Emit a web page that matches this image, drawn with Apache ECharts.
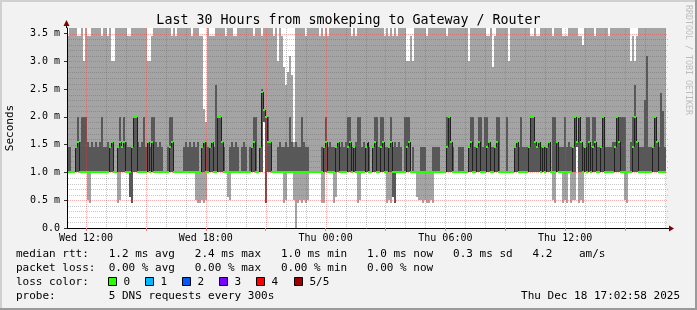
<!DOCTYPE html>
<html><head><meta charset="utf-8">
<script src="https://cdn.jsdelivr.net/npm/echarts@6.0.0/dist/echarts.min.js"></script>
<style>html,body{margin:0;padding:0;background:#f2f2f2}#c{width:697px;height:310px}</style>
</head><body><div id="c"></div>
<script>
// ---- time base (hours since Wed 00:00), one sample per 6 minutes ----
const START_H = 11.05;   // Wed 11:03
const END_H = 41.05;     // Thu 17:03
const STEP_H = 0.1;

// ---- smoke: lowest ping (p1) ----
const smokeLo = [
1,1,1,1,1,1,1,1,1,1,
0.5,0.45,1,1,1,1,1,1,1,1,
1,1,1,1,1,0.45,0.5,1,1,1,
1,0.55,0.45,1,1,1,1,1,1,1,
1,1,1,1,1,1,1,1,1,1,
1,1,1,1,1,1,1,1,1,1,
1,1,1,1,0.5,0.45,0.45,0.5,0.45,0.5,
1,1,1,1,1,1,1,1,1,1,
0.55,0.5,1,1,1,1,1,1,1,1,
1,1,1,1,1,1,1,1,1.9,0.45,
1,1,1,1,1,1,1,1,0.45,0.5,
1,1,1,0.5,0,0.45,0.5,0.45,0.5,0.45,
0.5,1,1,1,1,1,1,0.45,0.45,1,
1,1,1,0.45,0.55,1,1,1,1,1,
1,1,1,1,1,0.45,0.5,1,1,1,
1,1,1,1,1,1,1,1,1,1,
0.45,0.5,0.45,0.55,0.45,1,1,1,1,1,
1,1,1,1,1,0.55,0.5,0.5,0.45,0.5,
0.45,0.45,0.5,0.45,1,1,1,1,1,1,
1,1,1,1,1,1,1,1,1,1,
1,1,1,1,1,1,1,1,1,1,
1,1,1,1,1,1,1,1,1,1,
1,1,1,1,1,1,1,1,1,1,
1,1,1,1,1,1,1,1,1,1,
1,1,1,0.5,0.45,1,1,1,0.45,0.5,
0.45,1,0.45,0.5,0.5,1.45,0.45,0.5,0.45,1,
1,1,1,1,1,1,1,1,1,1,
1,1,1,1,1,1,1,1,1,0.5,
0.45,1,1,1,1,1,1,1,1,1,
1,1,1,1,1,1,1,1,1,1];

// ---- smoke: second ping (p2) ----
const smokeLoDark = [
1,1,1,1,1,1,1,1,1,1,
1,1,1,1,1,1,1,1,1,1,
1,1,1,1,1,1,1,1,1,1,
1,0.55,0.45,1,1,1,1,1,1,1,
1,1,1,1,1,1,1,1,1,1,
1,1,1,1,1,1,1,1,1,1,
1,1,1,1,1,1,1,1,1,1,
1,1,1,1,1,1,1,1,1,1,
1,1,1,1,1,1,1,1,1,1,
1,1,1,1,1,1,1,1,1.9,0.45,
1,1,1,1,1,1,1,1,1,1,
1,1,1,1,1,1,1,1,1,1,
1,1,1,1,1,1,1,1,1,1,
1,1,1,1,1,1,1,1,1,1,
1,1,1,1,1,1,1,1,1,1,
1,1,1,1,1,1,1,1,1,1,
1,1,1,0.55,0.45,1,1,1,1,1,
1,1,1,1,1,1,1,1,1,1,
1,1,1,1,1,1,1,1,1,1,
1,1,1,1,1,1,1,1,1,1,
1,1,1,1,1,1,1,1,1,1,
1,1,1,1,1,1,1,1,1,1,
1,1,1,1,1,1,1,1,1,1,
1,1,1,1,1,1,1,1,1,1,
1,1,1,1,1,1,1,1,1,1,
1,1,1,1,1,1.45,1,1,1,1,
1,1,1,1,1,1,1,1,1,1,
1,1,1,1,1,1,1,1,1,1,
1,1,1,1,1,1,1,1,1,1,
1,1,1,1,1,1,1,1,1,1];

// ---- median rtt (p3), ms ----
const median = [
1,1,1,1,1.45,1.55,1,1,1,1,
1,1,1,1,1,1,1,1,1,1,
1,1.45,1.55,1,1,1.45,1.55,1.45,1.55,1,
1,1,1.45,2,2,1,1,1,1,1,
1.55,1,1.55,1,1,1,1,1,1,1,
1,1.45,1.55,1,1,1,1,1,1,1,
1,1,1,1,1,1,1,1.45,1.55,1,
1,1.45,1.55,1,1,2,2,1.55,1,1,
1,1,1,1,1,1,1,1,1,1,
1,1,1.45,1.55,1,1,1.45,2.45,2.12,2,
1.55,1.55,1,1,1,1,1,1,1,1,
1,1,1,1,1,1,1,1,1,1,
1,1,1,1,1,1,1,1,1.45,1.55,
1,1,1,1,1.45,1.55,1,1,1,1,
1.45,1.55,1,1.45,1,1,1,1,1,1.45,
1.55,1,1,1.45,1.55,1,1,1.45,1.55,1,
1,1.45,1.55,1,1,1,1,1,1,1,
1.45,1.55,1,1,1,1,1,1,1,1,
1,1,1,1,1,1,1,1,1,1,
1.45,2,1.55,1,1,1,1,1,1,1,
1,1.45,1.55,1,1,1.45,1.55,1,1,1,
1.45,1.55,1,1,1.45,1.55,1,1,1,1,
1,1,1,1,1.45,1.55,1,1,1,1,
1,1.45,2,2,1.55,1.45,1.55,1,1.45,1,
1.45,1.55,1,1,1,1.55,1,1,1,1,
1,1,1,1.45,2,1.55,2,1.55,1,1.45,
1,1.55,1,1.45,1.55,1,1,1.45,2,1,
1,1,1,1,1.45,2,1.55,1,1,1,
1,1,1,1.45,2,1.55,1,1,1,1,
1,1,1,1.45,2,1.55,1,1,1,1];

// ---- smoke: fourth ping (p4) ----
const smokeHiDark = [
1.45,1.45,1,1,1.45,2,1.55,2,2,2,
1.55,1.45,1.55,1.45,1.55,1.45,1.55,2,1.45,1.45,
1.55,1.45,1.55,1,1,1.45,2,1.45,2,1.55,
1.45,1.45,1.45,2,2,1.55,1.45,1.55,2,1.45,
1.55,1.45,2,2,1.55,1.45,1.55,1.45,1,1,
1.45,2,2,1,1,1,1,1,1.45,1.55,
1.45,1.55,1.45,1.55,1.45,1.55,1,1.45,1.55,1.55,
1.45,1.45,1.55,1.45,2.57,2,2,1.55,1.45,1,
1,1.45,1.55,1.45,1.55,1.45,1,1.45,1.55,1.45,
1,1.45,1.45,2,2,1,1.45,2.5,2.12,2,
2,1.55,1,1,1,1.45,1.55,1.45,1.45,1.55,
1.45,2,1.55,1.45,1.55,1.45,1.45,2,1.55,1.45,
1.45,1,1,1,1,1,1,1.45,1.45,2,
1.45,1.55,1.45,1.45,1.45,1.55,1.45,1.55,1.45,1.55,
2,2,1.45,1.45,1.55,2,2,1.45,1.55,1.45,
1.55,1.45,1,1.45,2,2,1.45,2,2,1.45,
1.45,1.45,2,1.45,1.55,1.45,1.55,1.45,1,2,
2,2,1,1.45,1,1,1,1.45,1.45,1.45,
1,1,1,1.45,1.45,1.45,1.45,1,1,1,
2,2,1.55,1.45,1,1,1.45,1.45,1.45,1,
1,1.45,2,2,1.45,1.45,2,2,1.45,2,
2,1.55,1.45,1.45,1.45,2,2,1,1,1,
2,1,1,1,1.45,1.55,1.45,2,1.45,1.45,
1.45,1.45,2,2,1.55,1.45,1.55,1.45,1.45,1.45,
1.45,1.55,1,2,2,1.55,1.45,1.45,1.45,2,
1.45,1.55,1.45,1.45,2,1.55,2,1.55,1.45,1.45,
2,2,1.45,2,2,1.45,1.45,1.45,2,1.45,
1.45,1.45,1.45,1.55,1.55,2,2,2,2,2,
1,1,1.55,2,2.57,1.55,1.45,1.45,1.45,2.3,
3.1,1.45,1.45,1.45,2,1.55,1.45,2.43,2.1,1.45];

// ---- smoke: highest ping (p5), clipped at the 3.6 ms top ----
const smokeHi = [
3.45,3.6,3.6,3.6,3.6,3.45,3.45,3.6,3,3.6,
3.45,3.45,3.6,3.6,3.6,3.6,3.6,3.45,3.6,3.6,
3.45,3.6,3,3,3.6,3.6,3.6,3.6,3.6,3.6,
3.45,3.45,3.6,3.6,3.6,3.6,3.6,3.6,3.6,3.6,
3,3,3.45,3.6,3.6,3.6,3.6,3.6,3.6,3.6,
3.6,3.6,3.45,3.6,3.45,3.6,3.6,3.6,3.6,3.6,
3.6,3.6,3.45,3.6,3.6,3.6,3.45,3.45,2.15,1.9,
3.6,3.45,3.45,3.45,3.6,3.6,3.6,3.6,3.6,3.45,
3.6,3.6,3.6,3.45,3.45,3.6,3.6,3.6,3.6,3.6,
3.6,3.6,3.6,3.45,3.6,3.6,3.6,3.45,3.6,3.6,
3.6,3.6,3.6,3.45,3.6,3,3.6,3.45,2.9,2.57,
2.8,3.1,2.75,1.55,3.6,3.6,3.6,3.6,3.6,3.45,
3.6,3.6,3.6,3.6,3.6,3.6,3.45,3.6,3.45,3.6,
3.45,3.6,3.6,3.6,3.6,3.6,3.6,3.6,3.6,3.6,
3.6,3.6,3.45,3.6,3.45,3.6,3.6,3.6,3.6,3.6,
3.6,3.6,3.6,3.6,3.6,3.6,3.6,3.6,3.6,3.45,
3.6,3.45,3.6,3.45,3.6,3.45,3.6,3.6,3.6,3.6,
3,3,3.45,3,3.6,3.6,3.6,3.6,3.6,3.6,
3.45,3.6,3.6,3.6,3.6,3.6,3.6,3.6,3.6,3.6,
3.45,3.6,3.6,3.6,3.6,3.6,3.6,3.6,3.6,3.6,
3.6,3,3.6,3.6,3.6,3.6,3.6,3.6,3.6,3.6,
3.45,3.45,3.6,2.9,3.45,3.6,3.6,3.6,3.6,3.6,
3.6,3,3.6,3.6,3.6,3.6,3.6,3.6,3.6,3.6,
3.6,3.6,3.45,3.45,3.6,3.45,3.45,3.6,3.6,3.6,
3.6,3.6,3.6,3.45,3.6,3.6,3.6,3.6,3.45,3.45,
3.45,3.6,3.6,3.6,3.6,3.6,3.45,3.45,3.3,3.6,
3.6,3.6,3.6,3.6,3.45,3.6,3.6,3.6,3.6,3.6,
3.6,3.45,3.6,3.6,3.6,3.6,3.6,3.6,3.6,3.6,
3.6,3.6,3,3.45,3,3.45,3.6,3.6,3.6,3.6,
3.6,3.6,3.6,3.6,3.6,3.6,3.6,3.6,3.6,3.6];

// ---- axes / grid ticks ----
const xLabelHours = [12, 18, 24, 30, 36];
const xTickLabels = ['Wed 12:00', 'Wed 18:00', 'Thu 00:00', 'Thu 06:00', 'Thu 12:00'];
const xMajorHours = [12, 15, 18, 21, 24, 27, 30, 33, 36, 39];
const xMinorHours = [13, 14, 16, 17, 19, 20, 22, 23, 25, 26, 28, 29, 31, 32, 34, 35, 37, 38, 40, 41];
const yTickValues = [0, 0.5, 1, 1.5, 2, 2.5, 3, 3.5];
const yMajorValues = [0.5, 1, 1.5, 2, 2.5, 3, 3.5];
const yMinorValues = [0.1, 0.2, 0.3, 0.4, 0.6, 0.7, 0.8, 0.9, 1.1, 1.2, 1.3, 1.4, 1.6, 1.7, 1.8, 1.9,
  2.1, 2.2, 2.3, 2.4, 2.6, 2.7, 2.8, 2.9, 3.1, 3.2, 3.3, 3.4];

// ---- legend / stats text ----
const rttStats = ['1.2 ms avg', '2.4 ms max', '1.0 ms min', '1.0 ms now', '0.3 ms sd', '4.2    am/s'];
const lossStats = ['0.00 % avg', '0.00 % max', '0.00 % min', '0.00 % now'];
const lossLabels = ['0', '1', '2', '3', '4', '5/5'];
const lossColors = ['#26ff00', '#00b8ff', '#0059ff', '#7e00ff', '#ff0000', '#a10000'];
const probeText = '5 DNS requests every 300s';
const stampText = 'Thu Dec 18 17:02:58 2025';
const titleText = 'Last 30 Hours from smokeping to Gateway / Router';

const FONT = 'DejaVu Sans Mono';
const LIGHT = '#a4a4a4', DARK = '#585858';

// 1-on / 1-off dot pattern (rrdtool style dotted grid)
function dotPattern(color) {
  const c = document.createElement('canvas');
  c.width = 2; c.height = 2;
  const g = c.getContext('2d');
  g.fillStyle = color;
  g.fillRect(0, 0, 1, 1);
  g.fillRect(1, 1, 1, 1);
  return {image: c, repeat: 'repeat'};
}
const MAJOR_FILL = dotPattern('rgba(255,60,60,0.42)');
const MINOR_FILL = dotPattern('rgba(90,90,90,0.34)');

const idx = smokeLo.map((_, i) => i);
const smokeData = idx.map(i => [START_H + i * STEP_H, smokeLo[i], smokeLoDark[i], median[i], smokeHiDark[i], smokeHi[i]]);
const medData = idx.map(i => [START_H + i * STEP_H, i > 0 ? median[i - 1] : median[i], median[i]]);
const gridData = [].concat(
  xMinorHours.map(h => [0, h, 0]), xMajorHours.map(h => [0, h, 1]),
  yMinorValues.map(v => [1, v, 0]), yMajorValues.map(v => [1, v, 1]));

const chart = echarts.init(document.getElementById('c'), null, {renderer: 'canvas'});
const R = Math.round;

function colSpan(api, t0) {
  return [R(api.coord([t0, 0])[0]), R(api.coord([t0 + STEP_H, 0])[0])];
}

chart.setOption({
  animation: false,
  backgroundColor: '#f2f2f2',
  title: {
    text: titleText, left: 'center', top: 9,
    textStyle: {fontFamily: FONT, fontSize: 13.3, fontWeight: 'normal', color: '#000'}
  },
  grid: {left: 67, right: 31, top: 28, bottom: 82, show: true, backgroundColor: '#ffffff', borderWidth: 0,
    containLabel: false, outerBoundsMode: 'none'},
  xAxis: {
    type: 'value', min: START_H, max: END_H, z: 10,
    axisLine: {show: true, lineStyle: {color: '#000', width: 1}},
    axisTick: {show: true, customValues: xMajorHours, length: 3, lineStyle: {color: '#f08080'}},
    axisLabel: {
      customValues: xLabelHours, margin: 5, fontFamily: FONT, fontSize: 10, color: '#000',
      formatter: v => xTickLabels[xLabelHours.indexOf(v)] || ''
    },
    splitLine: {show: false}
  },
  yAxis: {
    type: 'value', min: 0, max: 3.6, z: 10,
    axisLine: {show: true, lineStyle: {color: '#000', width: 1}},
    axisTick: {show: true, customValues: yTickValues, length: 3, lineStyle: {color: '#333'}},
    axisLabel: {
      customValues: yTickValues, margin: 7, fontFamily: FONT, fontSize: 10, color: '#000',
      formatter: v => v === 0 ? '0.0' : v.toFixed(1) + ' m'
    },
    splitLine: {show: false}
  },
  series: [
    {
      type: 'custom', name: 'smoke', z: 2, clip: true,
      encode: {x: 0, y: [1, 2, 3, 4, 5]},
      data: smokeData,
      renderItem: (params, api) => {
        const t0 = api.value(0);
        const [xa, xb] = colSpan(api, t0);
        const yv = v => R(api.coord([t0, v])[1]);
        const lo = api.value(1), dlo = api.value(2), dhi = api.value(4), hi = api.value(5);
        const ch = [];
        if (hi > lo) ch.push({type: 'rect', shape: {x: xa, y: yv(hi), width: xb - xa, height: yv(lo) - yv(hi)}, style: {fill: LIGHT}});
        if (dhi > dlo) ch.push({type: 'rect', shape: {x: xa, y: yv(dhi), width: xb - xa, height: yv(dlo) - yv(dhi)}, style: {fill: DARK}});
        return {type: 'group', children: ch};
      }
    },
    {
      type: 'custom', name: 'grid', z: 3, clip: false, silent: true,
      data: gridData,
      renderItem: (params, api) => {
        const cs = params.coordSys;
        const kind = api.value(0), v = api.value(1), major = api.value(2);
        const style = {fill: major ? MAJOR_FILL : MINOR_FILL};
        if (kind === 0) {
          const x = R(api.coord([v, 0])[0]);
          return {type: 'rect', shape: {x: x, y: cs.y, width: 1, height: cs.height}, style};
        }
        const y = R(api.coord([START_H, v])[1]);
        return {type: 'rect', shape: {x: cs.x, y: y, width: cs.width + 2, height: 1}, style};
      }
    },
    {
      type: 'custom', name: 'median', z: 4, clip: true,
      encode: {x: 0, y: [1, 2]},
      data: medData,
      renderItem: (params, api) => {
        const t0 = api.value(0);
        const [xa, xb] = colSpan(api, t0);
        const prev = api.value(1), cur = api.value(2);
        const yc = R(api.coord([t0, cur])[1]);
        const ch = [];
        if (prev !== cur) {
          const yp = R(api.coord([t0, prev])[1]);
          ch.push({type: 'line', shape: {x1: xa + 0.5, y1: yp, x2: xa + 0.5, y2: yc}, style: {stroke: '#202020', lineWidth: 1}});
        }
        ch.push({type: 'rect', shape: {x: xa, y: yc - 1, width: xb - xa, height: 2}, style: {fill: lossColors[0]}});
        return {type: 'group', children: ch};
      }
    }
  ]
});

// ---- frame, arrows and text blocks ----
const pEnd = chart.convertToPixel({gridIndex: 0}, [END_H, 0]);
const pTop = chart.convertToPixel({gridIndex: 0}, [START_H, 3.6]);
const ax = R(pTop[0]) - 0.5, ay = R(pEnd[1]) + 0.5;
const ARROW = '#7f0000';
const txt = (x, y, text, size, extra) => Object.assign({
  type: 'text', x, y, silent: true,
  style: Object.assign({text, fontFamily: FONT, fontSize: size, fill: '#000', textAlign: 'left', textVerticalAlign: 'middle'}, (extra && extra.style) || {})
}, extra && extra.rotation !== undefined ? {rotation: extra.rotation} : {});

const rowY = [254, 268, 282, 296];
const graphics = [
  {type: 'rect', shape: {x: 0, y: 0, width: 697, height: 2}, style: {fill: '#d0d0d0'}, silent: true},
  {type: 'rect', shape: {x: 0, y: 0, width: 2, height: 310}, style: {fill: '#d0d0d0'}, silent: true},
  {type: 'rect', shape: {x: 0, y: 308, width: 697, height: 2}, style: {fill: '#9a9a9a'}, silent: true},
  {type: 'rect', shape: {x: 695, y: 0, width: 2, height: 310}, style: {fill: '#9a9a9a'}, silent: true},
  {type: 'line', shape: {x1: ax, y1: pTop[1], x2: ax, y2: pTop[1] - 4}, style: {stroke: '#000', lineWidth: 1}, silent: true},
  {type: 'polygon', shape: {points: [[ax - 3, pTop[1] - 2], [ax + 3, pTop[1] - 2], [ax, pTop[1] - 8]]}, style: {fill: ARROW}, silent: true},
  {type: 'line', shape: {x1: pEnd[0], y1: ay, x2: pEnd[0] + 4, y2: ay}, style: {stroke: '#000', lineWidth: 1}, silent: true},
  {type: 'polygon', shape: {points: [[pEnd[0] + 3, ay - 3], [pEnd[0] + 3, ay + 3], [pEnd[0] + 8, ay]]}, style: {fill: ARROW}, silent: true},
  txt(688, 60, 'RRDTOOL / TOBI OETIKER', 8.3, {rotation: -Math.PI / 2, style: {fill: '#bdbdbd', textAlign: 'center'}}),
  txt(10, 128, 'Seconds', 11, {rotation: Math.PI / 2, style: {textAlign: 'center'}}),
  txt(16, rowY[0], 'median rtt:'.padEnd(14) + rttStats.join('   '), 11),
  txt(16, rowY[1], 'packet loss:'.padEnd(14) + lossStats.join('   '), 11),
  txt(16, rowY[2], 'loss color:', 11),
  txt(16, rowY[3], 'probe:'.padEnd(14) + probeText, 11),
  txt(680, rowY[3], stampText, 11, {style: {textAlign: 'right'}})
];
lossLabels.forEach((lab, i) => {
  const bx = R(108 + i * 37.1) + 0.5;
  graphics.push({type: 'rect', shape: {x: bx, y: rowY[2] - 4.5, width: 8, height: 8}, style: {fill: lossColors[i], stroke: '#000', lineWidth: 1}, silent: true});
  graphics.push(txt(bx + 15, rowY[2], lab, 11));
});
chart.setOption({graphic: graphics});
</script>
</body></html>
